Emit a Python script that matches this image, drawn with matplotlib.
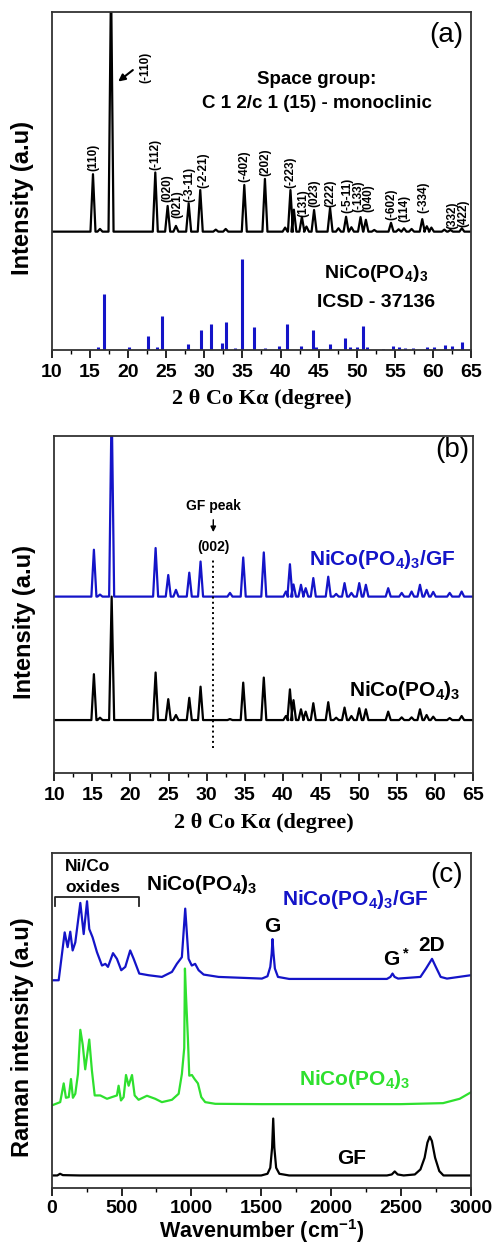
import numpy as np
import matplotlib.pyplot as plt
from matplotlib.ticker import MultipleLocator

plt.rcParams['font.family'] = ['Liberation Sans', 'DejaVu Sans']
plt.rcParams['font.weight'] = 'bold'
plt.rcParams['axes.labelweight'] = 'bold'
plt.rcParams['mathtext.fontset'] = 'custom'
plt.rcParams['mathtext.rm'] = 'Liberation Sans:bold'
plt.rcParams['mathtext.bf'] = 'Liberation Sans:bold'
plt.rcParams['mathtext.it'] = 'Liberation Sans:bold'
plt.rcParams['mathtext.default'] = 'bf'

# -Daten--------------------------------------------------------------------------------------------------------------#

# (a) measured pattern, peak positions (2theta) and peak tops (a.u.)
a_pos = [15.38, 16.3, 17.75, 23.56, 25.18, 26.27, 27.94, 29.46, 31.5, 32.8, 35.24, 37.95, 40.6, 41.3, 41.75,
         42.8, 43.4, 44.4, 46.5, 47.6, 48.6, 49.3, 50.5, 51.2, 52.3, 54.5, 55.5, 56.2, 57.2, 58.6, 59.2,
         59.8, 61.5, 62.3, 63.8]
a_hgt = [52, 35.8, 110, 52.5, 42.6, 36.7, 43.4, 47.3, 35.6, 35.8, 48.8, 50.6, 36.2, 47.3, 41.5,
         39.4, 36.5, 41.4, 42, 36, 39.4, 36.3, 39.3, 38.5, 35.5, 37.6, 35.7, 36, 35.8, 38.7, 36.6,
         36.2, 35.6, 35.5, 36]
a_base = 35

# (a) hkl labels
a_lab = ['(110)', '(-112)', '(020)', '(021)', '(-3-11)', '(-2-21)', '(-402)', '(202)', '(-223)', '(131)',
         '(023)', '(222)', '(-5-11)', '(-133)', '(040)', '(-602)', '(114)', '(-334)', '(332)', '(422)']
a_lab_x = [15.38, 23.56, 25.18, 26.4, 28.07, 29.9, 35.24, 37.95, 41.3, 42.98,
           44.5, 46.57, 48.76, 50.2, 51.55, 54.58, 56.2, 58.73, 62.5, 64.05]
a_lab_y = [53, 53.3, 43.9, 38.9, 43.9, 47.8, 49.8, 51.5, 47.8, 39.4,
           42.4, 42.4, 40.4, 40.9, 40.9, 38.5, 38, 40.4, 35.9, 36.5]

# (a) ICSD 37136 reference sticks
icsd_pos = [16.0, 16.85, 20.05, 22.64, 23.8, 24.45, 27.8, 29.5, 30.9, 32.25, 32.88, 34.0, 34.88, 36.55,
            37.9, 39.85, 40.8, 42.7, 44.3, 44.6, 46.5, 48.45, 49.1, 50.07, 50.77, 51.3, 53.5, 54.8,
            55.5, 56.4, 57.4, 59.2, 60.1, 61.6, 62.5, 63.8]
icsd_hgt = [1.0, 16.6, 1.0, 4.2, 0.8, 10.1, 1.7, 5.9, 7.6, 2.2, 8.2, 0.6, 26.9, 6.9,
            0.5, 1.2, 7.7, 1.3, 5.8, 1.0, 1.8, 3.4, 1.0, 0.8, 7.2, 0.8, 0.4, 1.2,
            0.8, 0.7, 0.5, 1.0, 1.0, 1.6, 1.2, 2.5]

# (b) NiCo(PO4)3/GF (blau) und NiCo(PO4)3 (schwarz)
b_pos = [15.2, 16.0, 17.53, 23.3, 24.96, 25.97, 27.72, 29.2, 33.06, 34.8, 37.5, 40.4, 40.93, 41.4,
         42.38, 43.0, 44.0, 45.96, 47.0, 48.1, 49.0, 50.03, 50.9, 53.83, 55.6, 56.9, 58.0, 58.87,
         59.74, 61.9, 63.47]
b_gf_hgt = [66.3, 53, 110, 66.8, 58.8, 54.4, 59.5, 62.8, 53.5, 64, 65.5, 53.9, 62, 56,
            55.9, 54.9, 57.9, 58.3, 53.2, 56.4, 53.5, 56.4, 55.9, 54.9, 53.5, 53.9, 55.9, 54.4,
            53.8, 53.5, 53.9]
b_gf_base = 52.4
b_nc_hgt = [29.4, 16.5, 52.4, 29.9, 22, 17.3, 22.4, 25.7, 16.1, 26.9, 28.4, 17, 24.9, 21.7,
            19, 18.3, 20.8, 21.1, 16.5, 19.5, 17, 19.3, 19, 18.3, 16.6, 16.6, 19, 17.3,
            16.8, 16.4, 17]
b_nc_base = 15.8
gf_peak_2theta = 30.87

# (c) Raman
gf_x = [0, 40, 60, 80, 200, 1500, 1545, 1565, 1578, 1586, 1594, 1607, 1630, 1700, 2400, 2435, 2456,
        2477, 2520, 2600, 2640, 2670, 2690, 2707, 2722, 2745, 2775, 2805, 3000]
gf_y = [3.7, 3.7, 4.2, 3.8, 3.7, 3.7, 4.2, 6, 12, 20.7, 12, 6, 4.2, 3.7, 3.7, 4.0, 4.9,
        4.0, 3.7, 4.0, 5.5, 9, 13.5, 15.3, 14, 9, 5, 3.7, 3.7]

nc_x = [0, 61, 86, 102, 122, 138, 152, 169, 188, 205, 222, 240, 269, 288, 308, 348, 396, 431, 467,
        479, 496, 515, 532, 551, 575, 594, 622, 682, 741, 789, 861, 909, 932, 949, 954, 961, 975,
        985, 1004, 1023, 1047, 1071, 1099, 1171, 1505, 2500, 2802, 2921, 3000]
nc_y = [24.6, 25.6, 31.2, 26.9, 27.1, 32.5, 26.9, 28.1, 34, 47.2, 42.8, 35.4, 44.3, 35, 27.6, 27.6,
        26.6, 27.1, 27.6, 30.5, 26.1, 27.1, 33.7, 30.5, 33.7, 27.6, 26.3, 27.5, 26.6, 25.6, 26.3,
        28.1, 34, 41.8, 65.5, 58, 44.8, 33.5, 33.7, 32.5, 31.2, 27.1, 25.6, 25.1, 25, 25, 25.3,
        26.6, 28.5]

ncgf_x = [0, 50, 93, 114, 133, 150, 169, 205, 229, 253, 269, 293, 324, 360, 384, 403, 439, 467, 498,
          527, 562, 587, 627, 694, 789, 861, 896, 932, 956, 980, 1003, 1027, 1052, 1088, 1195, 1505,
          1545, 1565, 1575, 1581, 1588, 1598, 1620, 1700, 2400, 2425, 2440, 2455, 2480, 2640, 2680,
          2723, 2750, 2785, 2830, 3000]
ncgf_y = [62, 62, 76.3, 71.9, 76.5, 70.9, 73.3, 85.1, 75.8, 85.6, 77.3, 74.8, 70.4, 66.4, 66.9, 66,
          70.1, 68.4, 65, 66, 70.9, 68.4, 64, 63.5, 63, 64.5, 66.9, 68.9, 83.4, 68.4, 66.4, 66.9,
          65, 63.7, 63, 62.5, 63.2, 66, 70, 74.3, 70, 65.5, 63, 62.4, 62.4, 63, 64, 63, 62.5, 63,
          65.5, 68.4, 66, 63, 62.5, 63.5]

blue = '#1414c8'
green = '#2ee02e'

# -Funktionen---------------------------------------------------------------------------------------------------------#


def trace(pos, hgt, base, hw, x0, x1):
    xs = [x0]
    ys = [base]
    for p, h in zip(pos, hgt):
        xs += [p - hw, p, p + hw]
        ys += [base, h, base]
    xs.append(x1)
    ys.append(base)
    return xs, ys


def style(ax, major, minor, xlabel, serif):
    ax.set_yticks([])
    ax.xaxis.set_major_locator(MultipleLocator(major))
    ax.xaxis.set_minor_locator(MultipleLocator(minor))
    ax.tick_params(axis='x', which='minor', direction='out', length=3, width=1.0)
    for s in ax.spines.values():
        s.set_linewidth(1.3)
        s.set_color('#333333')
    if serif:
        ax.tick_params(axis='x', which='major', direction='out', length=6, width=1.2, labelsize=14, pad=4)
        ax.set_xlabel(xlabel, fontsize=16, family='Liberation Serif', fontweight='bold', labelpad=6)
    else:
        ax.tick_params(axis='x', which='major', direction='out', length=6, width=1.2, labelsize=14, pad=3)
        ax.set_xlabel(xlabel, fontsize=15.5, fontweight='bold', labelpad=0)
    for lab in ax.get_xticklabels():
        lab.set_fontweight('bold')
    ax.yaxis.set_label_coords(-0.043, 0.45)


# -Diagramme----------------------------------------------------------------------------------------------------------#

fig = plt.figure(figsize=(4.98, 12.53), dpi=100)
axa = fig.add_axes([0.1044, 0.7207, 0.8414, 0.2698])
axb = fig.add_axes([0.1090, 0.3828, 0.8414, 0.2692])
axc = fig.add_axes([0.1038, 0.0520, 0.8414, 0.2672])

# (a)
xs, ys = trace(a_pos, a_hgt, a_base, 0.33, 10, 65)
axa.plot(xs, ys, color='black', lw=1.6)
axa.vlines(icsd_pos, 0, icsd_hgt, color=blue, lw=2.2)
for t, x, y in zip(a_lab, a_lab_x, a_lab_y):
    axa.text(x, y, t, rotation=90, ha='center', va='bottom', fontsize=8.5, fontweight='bold')
axa.text(22.2, 78.9, '(-110)', rotation=90, ha='center', va='bottom', fontsize=8.5, fontweight='bold')
axa.annotate('', xy=(18.4, 78.9), xytext=(20.9, 83.3),
             arrowprops=dict(arrowstyle='-|>', color='black', lw=1.5, mutation_scale=10))
axa.text(44.8, 80, 'Space group:', ha='center', va='center', fontsize=13.5, fontweight='bold')
axa.text(44.8, 73, 'C 1 2/c 1 (15) - monoclinic', ha='center', va='center', fontsize=13.5, fontweight='bold')
axa.text(52.5, 22.5, 'NiCo(PO$_4$)$_3$', ha='center', va='center', fontsize=14, fontweight='bold')
axa.text(52.5, 14, 'ICSD - 37136', ha='center', va='center', fontsize=14, fontweight='bold')
axa.text(61.7, 93.2, '(a)', ha='center', va='center', fontsize=20, fontweight='normal')
axa.set_xlim(10, 65)
axa.set_ylim(0, 100)
axa.set_ylabel('Intensity (a.u)', fontsize=17, fontweight='bold')
style(axa, 5, 2.5, '2 θ Co Kα (degree)', True)

# (b)
xs, ys = trace(b_pos, b_nc_hgt, b_nc_base, 0.33, 10, 65)
axb.plot(xs, ys, color='black', lw=1.6)
xs, ys = trace(b_pos, b_gf_hgt, b_gf_base, 0.33, 10, 65)
axb.plot(xs, ys, color=blue, lw=1.6)
axb.plot([gf_peak_2theta, gf_peak_2theta], [7.4, 63.8], color='black', ls=':', lw=1.4)
axb.text(gf_peak_2theta, 67.2, '(002)', ha='center', va='center', fontsize=10, fontweight='bold')
axb.text(gf_peak_2theta, 79.3, 'GF peak', ha='center', va='center', fontsize=10, fontweight='bold')
axb.annotate('', xy=(gf_peak_2theta, 70.7), xytext=(gf_peak_2theta, 76),
             arrowprops=dict(arrowstyle='-|>', color='black', lw=1.0, mutation_scale=8))
axb.text(53.1, 63.3, 'NiCo(PO$_4$)$_3$/GF', ha='center', va='center', fontsize=15, color=blue,
         fontweight='bold')
axb.text(56.0, 24.7, 'NiCo(PO$_4$)$_3$', ha='center', va='center', fontsize=15, fontweight='bold')
axb.text(62.2, 95.9, '(b)', ha='center', va='center', fontsize=20, fontweight='normal')
axb.set_xlim(10, 65)
axb.set_ylim(0, 100)
axb.set_ylabel('Intensity (a.u)', fontsize=17, fontweight='bold')
style(axb, 5, 2.5, '2 θ Co Kα (degree)', True)

# (c)
axc.plot(gf_x, gf_y, color='black', lw=1.6)
axc.plot(nc_x, nc_y, color=green, lw=1.6)
axc.plot(ncgf_x, ncgf_y, color=blue, lw=1.6)
axc.plot([24, 24, 627, 627], [84.3, 86.9, 86.9, 84.3], color='#222222', lw=1.3)
axc.text(95, 96, 'Ni/Co', ha='left', va='center', fontsize=12.5, fontweight='bold')
axc.text(95, 89.6, 'oxides', ha='left', va='center', fontsize=12.5, fontweight='bold')
axc.text(1073, 90.6, 'NiCo(PO$_4$)$_3$', ha='center', va='center', fontsize=15, fontweight='bold')
axc.text(2170, 86.1, 'NiCo(PO$_4$)$_3$/GF', ha='center', va='center', fontsize=15, color=blue,
         fontweight='bold')
axc.text(1581, 78.2, 'G', ha='center', va='center', fontsize=15, fontweight='bold')
axc.text(2468, 68.4, 'G$^*$', ha='center', va='center', fontsize=15, fontweight='bold')
axc.text(2719, 72.3, '2D', ha='center', va='center', fontsize=15, fontweight='bold')
axc.text(2171, 32.5, 'NiCo(PO$_4$)$_3$', ha='center', va='center', fontsize=15, color=green,
         fontweight='bold')
axc.text(2146, 8.9, 'GF', ha='center', va='center', fontsize=15, fontweight='bold')
axc.text(2826, 93.5, '(c)', ha='center', va='center', fontsize=20, fontweight='normal')
axc.set_xlim(0, 3000)
axc.set_ylim(0, 100)
axc.set_ylabel('Raman intensity (a.u)', fontsize=17, fontweight='bold')
style(axc, 500, 250, 'Wavenumber (cm$^{-1}$)', False)

plt.savefig('out.png', dpi=100)
